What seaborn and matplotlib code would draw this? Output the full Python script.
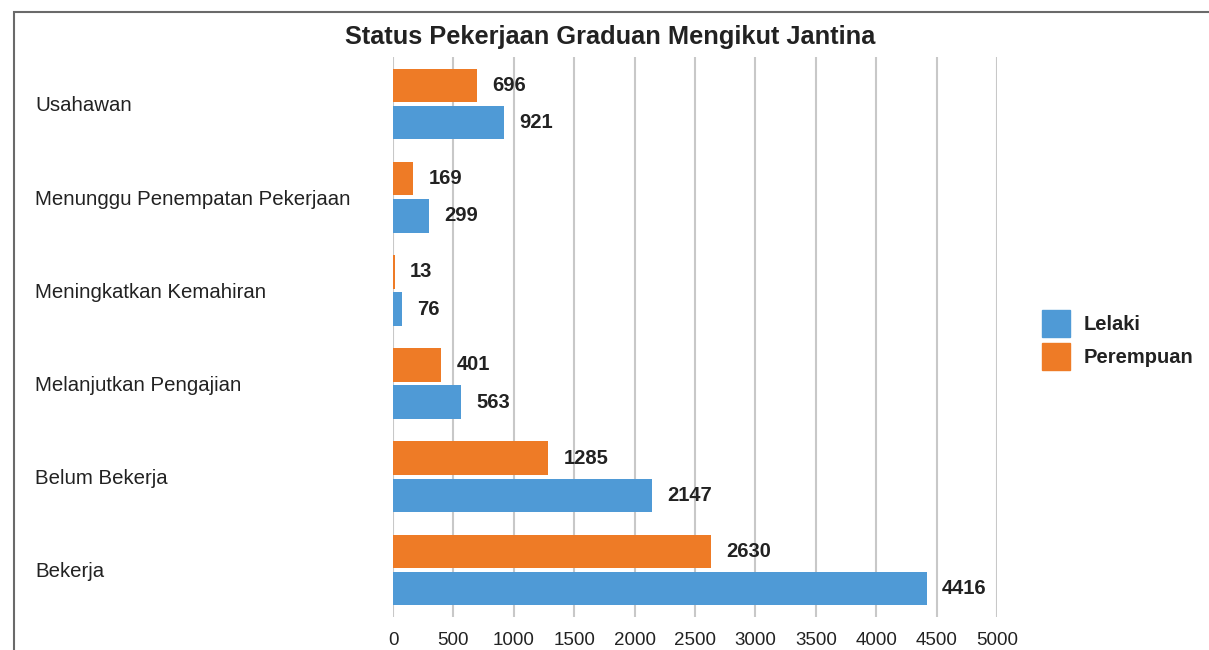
import pandas as pd
import numpy as np
import matplotlib
matplotlib.use('Agg')
import matplotlib.pyplot as plt
import matplotlib.patches as mpatches
import seaborn as sns

# data
kategori = ['Usahawan', 'Menunggu Penempatan Pekerjaan', 'Meningkatkan Kemahiran',
            'Melanjutkan Pengajian', 'Belum Bekerja', 'Bekerja']
lelaki = [921, 299, 76, 563, 2147, 4416]
perempuan = [696, 169, 13, 401, 1285, 2630]
x_ticks = [0, 500, 1000, 1500, 2000, 2500, 3000, 3500, 4000, 4500, 5000]

warna = {'Lelaki': '#4F9AD6', 'Perempuan': '#EE7B26'}

df = pd.DataFrame({
    'Status': kategori * 2,
    'Jantina': ['Perempuan'] * len(kategori) + ['Lelaki'] * len(kategori),
    'Bilangan': perempuan + lelaki,
})

sns.set_theme(style='white')
plt.rcParams['font.family'] = ['Liberation Sans', 'DejaVu Sans']
teks = '#222222'

fig = plt.figure(figsize=(12.09, 6.5), dpi=100)
ax = fig.add_axes([0.3251, 0.0514, 0.4996, 0.8603])

sns.barplot(data=df, y='Status', x='Bilangan', hue='Jantina',
            hue_order=['Perempuan', 'Lelaki'], palette=warna, orient='h',
            width=0.8, gap=0.1, saturation=1, linewidth=0, legend=False, ax=ax)

# label nilai
for c in ax.containers:
    ax.bar_label(c, fmt='{:.0f}', padding=11, fontsize=14.5,
                 fontweight='bold', color=teks)

ax.set_xlim(0, 5000)
ax.set_xticks(x_ticks)
ax.set_xlabel('')
ax.set_ylabel('')
ax.grid(axis='x', color='#C8C8C8', linewidth=1.5)
ax.grid(axis='y', visible=False)
ax.set_axisbelow(True)
for s in ax.spines.values():
    s.set_visible(False)

ax.tick_params(axis='x', length=0, pad=11, labelsize=13.5, labelcolor=teks)
ax.tick_params(axis='y', length=0, pad=257.8, labelsize=14.7, labelcolor=teks)
for lbl in ax.get_yticklabels():
    lbl.set_horizontalalignment('left')

fig.text(0.505, 0.943, 'Status Pekerjaan Graduan Mengikut Jantina',
         ha='center', va='center', fontsize=18.3, fontweight='bold', color=teks)

# legend
handles = [mpatches.Patch(color=warna['Lelaki'], label='Lelaki'),
           mpatches.Patch(color=warna['Perempuan'], label='Perempuan')]
fig.legend(handles=handles, loc='center left', bbox_to_anchor=(1032 / 1209, 0.477),
           frameon=False, borderpad=0, handlelength=1.4, handleheight=1.65,
           handletextpad=0.65, labelspacing=0.3,
           prop={'weight': 'bold', 'size': 14.5}, labelcolor=teks)

# bingkai luar
fig.patches.append(mpatches.Rectangle((14 / 1209, -0.2), 1.2, 1 - 12 / 650 + 0.2,
                                      transform=fig.transFigure, fill=False,
                                      edgecolor='#6A6A6A', linewidth=1.5))

fig.savefig('out.png', dpi=100)
